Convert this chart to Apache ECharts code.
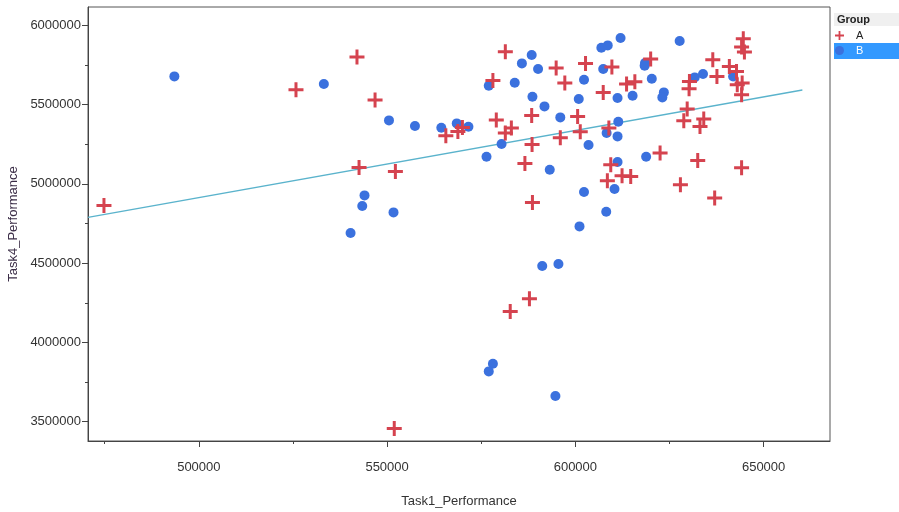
<!DOCTYPE html>
<html>
<head>
<meta charset="utf-8">
<script src="https://cdn.jsdelivr.net/npm/echarts@6/dist/echarts.min.js"></script>
<style>
html,body{margin:0;padding:0;background:#fff;}
#chart{width:899px;height:512px;}
</style>
</head>
<body>
<div id="chart"></div>
<script>
// ---- data ----
const aX = [474800,525800,542000,546800,565600,568800,570000,542550,552200,581400,578100,579000,583000,581400,588400,588500,586600,588600,587800,582700,551900,644600,644150,644900,636500,594900,602700,609700,620000,640900,642800,637600,644300,643000,644150,630300,630200,597200,607400,613600,615800,600600,601300,608900,596000,629700,628800,634100,633100,622500,632500,644150,627900,637000,609400,608500,612400,614700];
const aY = [4864000,5594300,5800600,5529300,5304100,5331200,5356500,5104100,5078900,5834100,5653000,5403200,5352700,5321200,5432200,5249200,5129400,4883300,4275700,4195600,3457500,5916100,5863700,5832200,5783600,5731200,5760300,5737500,5788000,5741300,5709800,5678200,5636600,5625900,5562800,5646700,5600600,5636600,5577300,5630300,5644800,5425900,5329400,5352700,5291500,5472600,5398800,5409500,5362800,5195000,5148300,5102200,4995000,4911100,5121200,5020200,5051800,5047300];
const bX = [493500,533200,550500,557400,564400,568500,571600,544000,543400,551700,540300,588400,585800,590100,577000,583900,588600,591800,580400,576400,593200,596000,608200,601100,591200,595500,578100,577000,594700,612000,627700,608600,606900,618500,618400,607400,631700,633900,641900,602300,611200,615200,620300,623500,623100,600900,611400,608300,611200,603500,618800,611200,610400,602300];
const bY = [5678200,5630300,5400600,5365300,5354600,5381700,5360900,4927500,4860600,4820200,4690300,5813300,5760300,5724900,5619600,5638500,5550200,5489000,5251800,5171600,5089600,5419600,4824600,4731900,4482100,4494700,3865700,3817100,3661900,5920500,5901600,5873800,5859300,5762800,5745700,5724900,5671900,5693400,5678200,5657400,5542000,5556500,5663700,5577300,5545800,5535700,5392400,5321200,5299700,5245400,5171600,5138200,4967800,4948900];
const fitX = [470560, 660290];
const fitY = [4789300, 5592400];
const xTicks = [500000, 550000, 600000, 650000];
const xMinorTicks = [475000, 525000, 575000, 625000];
const yTicks = [3500000, 4000000, 4500000, 5000000, 5500000, 6000000];
const yMinorTicks = [3750000, 4250000, 4750000, 5250000, 5750000];
const groups = ['A', 'B'];
const xName = 'Task1_Performance';
const yName = 'Task4_Performance';
const legendTitle = 'Group';

// ---- chart ----
const FONT = '"Liberation Sans", Arial, sans-serif';
const RED = '#d5434f';
const BLUE = '#3b71de';
const CROSS = 'path://M4,0H6V4H10V6H6V10H4V6H0V4H4Z';
const xMin = 470560, xMax = 667630, yMin = 3377900, yMax = 6116100;
const plain = v => String(v);

const zip = (xs, ys) => xs.map((x, i) => [x, ys[i]]);

const chart = echarts.init(document.getElementById('chart'), null, {renderer: 'canvas'});
chart.setOption({
  animation: false,
  backgroundColor: '#fff',
  grid: {left: 88, right: 69, top: 7, bottom: 71, outerBoundsMode: 'none', containLabel: false,
         show: true, borderColor: '#555', borderWidth: 1},
  xAxis: [{
    type: 'value', min: xMin, max: xMax, position: 'bottom',
    name: xName, nameLocation: 'middle', nameGap: 54,
    nameTextStyle: {fontFamily: FONT, fontSize: 13, color: '#333'},
    axisLine: {show: true, lineStyle: {color: '#444'}},
    axisTick: {show: true, length: 6, customValues: xTicks, lineStyle: {color: '#444'}},
    axisLabel: {customValues: xTicks, formatter: plain, margin: 20, fontFamily: FONT, fontSize: 13, color: '#333'},
    splitLine: {show: false}
  }, {
    type: 'value', min: xMin, max: xMax, position: 'bottom', gridIndex: 0,
    axisLine: {show: false},
    axisTick: {show: true, length: 3, customValues: xMinorTicks, lineStyle: {color: '#444'}},
    axisLabel: {show: false},
    splitLine: {show: false}
  }],
  yAxis: [{
    type: 'value', min: yMin, max: yMax, position: 'left',
    name: yName, nameLocation: 'middle', nameGap: 66,
    nameTextStyle: {fontFamily: FONT, fontSize: 13, color: '#3a2c46'},
    axisLine: {show: true, lineStyle: {color: '#444'}},
    axisTick: {show: true, length: 6, customValues: yTicks, lineStyle: {color: '#444'}},
    axisLabel: {customValues: yTicks, formatter: plain, margin: 7, fontFamily: FONT, fontSize: 13, color: '#333'},
    splitLine: {show: false}
  }, {
    type: 'value', min: yMin, max: yMax, position: 'left', gridIndex: 0,
    axisLine: {show: false},
    axisTick: {show: true, length: 3, customValues: yMinorTicks, lineStyle: {color: '#444'}},
    axisLabel: {show: false},
    splitLine: {show: false}
  }],
  legend: {
    orient: 'vertical', left: 835, top: 30, padding: 0,
    itemWidth: 9, itemHeight: 9, itemGap: 4,
    selectedMode: false,
    textStyle: {fontFamily: FONT, fontSize: 11, color: '#222', padding: [0, 0, 0, 7]},
    data: [
      {name: groups[0], icon: CROSS},
      {name: groups[1], icon: 'circle', textStyle: {color: '#fff'}}
    ]
  },
  graphic: [
    {type: 'rect', shape: {x: 834, y: 13, width: 65, height: 13}, style: {fill: '#f0f0f0'}, z: -1},
    {type: 'rect', shape: {x: 834, y: 43, width: 65, height: 16}, style: {fill: '#3399ff'}, z: -1},
    {type: 'text', x: 837, y: 19.5, style: {text: legendTitle, font: 'bold 11px ' + FONT, fill: '#222', verticalAlign: 'middle'}}
  ],
  series: [
    {
      name: 'fit', type: 'line', xAxisIndex: 0, yAxisIndex: 0,
      data: zip(fitX, fitY), symbol: 'none', silent: true, z: 1,
      lineStyle: {color: '#5ab3cc', width: 1.3}
    },
    {
      name: groups[0], type: 'scatter', xAxisIndex: 0, yAxisIndex: 0,
      data: zip(aX, aY), symbol: CROSS, symbolSize: 15, z: 3,
      itemStyle: {color: RED, opacity: 1}
    },
    {
      name: groups[1], type: 'scatter', xAxisIndex: 0, yAxisIndex: 0,
      data: zip(bX, bY), symbol: 'circle', symbolSize: 10, z: 2,
      itemStyle: {color: BLUE, opacity: 1}
    }
  ]
});
</script>
</body>
</html>
